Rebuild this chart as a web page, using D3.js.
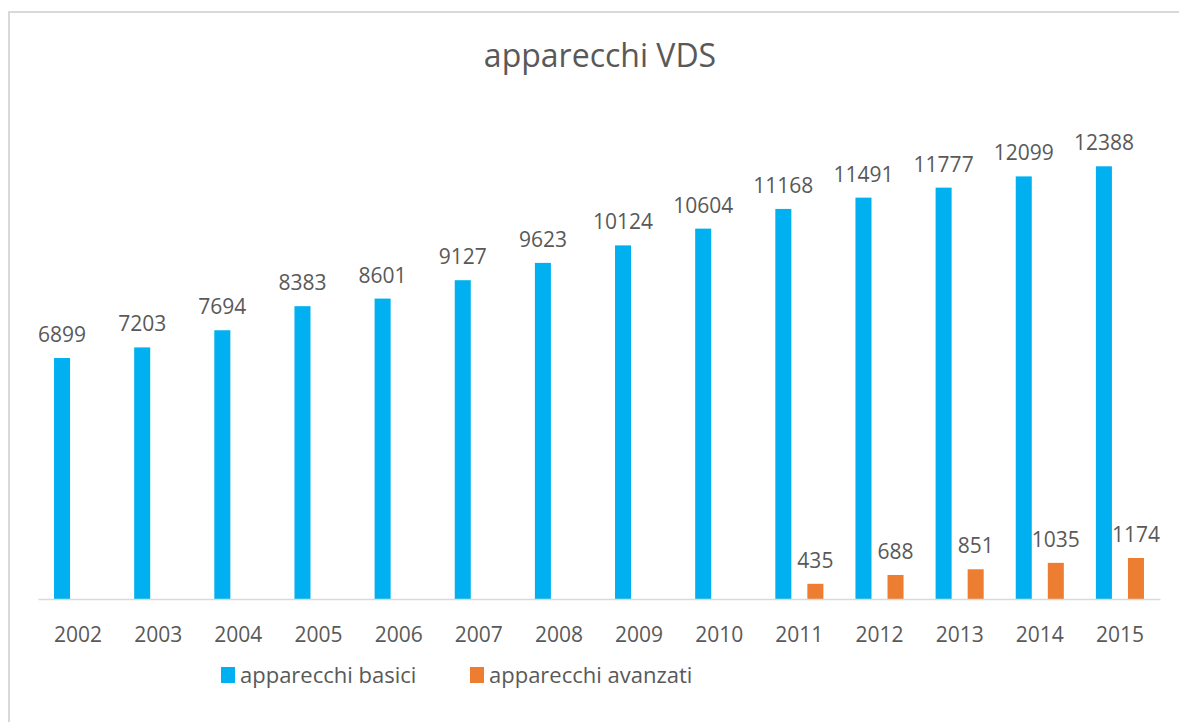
<!DOCTYPE html>
<html>
<head>
<meta charset="utf-8">
<script src="https://cdn.jsdelivr.net/npm/d3@7"></script>
<style>
	body { margin: 0; background: #fff; }
	svg { display: block; font-family: "Open Sans", "Noto Sans", sans-serif; }
</style>
</head>
<body>
<script>
let years = ["2002","2003","2004","2005","2006","2007","2008","2009","2010","2011","2012","2013","2014","2015"];
let basici = [6899, 7203, 7694, 8383, 8601, 9127, 9623, 10124, 10604, 11168, 11491, 11777, 12099, 12388];
let avanzati = [null, null, null, null, null, null, null, null, null, 435, 688, 851, 1035, 1174];
let seriesNames = ["apparecchi basici", "apparecchi avanzati"];
let seriesColors = ["#00B0F0", "#ED7D31"];

let width = 1179;
let height = 722;
let margin = { top: 110, right: 19, bottom: 123, left: 38 };
let textColor = "#595959";

let svg = d3.select("body").append("svg")
	.attr("width", width)
	.attr("height", height);

// chart frame (runs off the right / bottom of the window)
svg.append("rect")
	.attr("x", 9)
	.attr("y", 12)
	.attr("width", width + 20)
	.attr("height", height + 20)
	.attr("fill", "#fff")
	.attr("stroke", "#D9D9D9")
	.attr("stroke-width", 2);

svg.append("text")
	.text("apparecchi VDS")
	.attr("x", 600)
	.attr("y", 67)
	.attr("text-anchor", "middle")
	.attr("fill", textColor)
	.style("font-size", "32px");

let x0 = d3.scaleBand()
	.domain(years)
	.range([margin.left, width - margin.right])
	.paddingInner(0.4)
	.paddingOuter(0.2);

let x1 = d3.scaleBand()
	.domain([0, 1])
	.range([0, x0.bandwidth()])
	.paddingInner(0.5);

let y = d3.scaleLinear()
	.domain([0, 14000])
	.range([height - margin.bottom, margin.top]);

let rows = years.map((yr, i) => ({ year: yr, values: [basici[i], avanzati[i]] }));

let groups = svg.selectAll(".group")
	.data(rows)
	.enter()
	.append("g")
	.attr("class", "group")
	.attr("transform", d => `translate(${x0(d.year)},0)`);

let cells = groups.selectAll(".cell")
	.data(d => d.values.map((v, s) => ({ v: v, s: s })).filter(e => e.v != null))
	.enter();

cells.append("rect")
	.attr("x", d => x1(d.s))
	.attr("width", x1.bandwidth())
	.attr("y", d => y(d.v))
	.attr("height", d => y(0) - y(d.v))
	.attr("fill", d => seriesColors[d.s]);

cells.append("text")
	.text(d => d.v)
	.attr("x", d => x1(d.s) + x1.bandwidth() / 2)
	.attr("y", d => y(d.v) - 16)
	.attr("text-anchor", "middle")
	.attr("fill", textColor)
	.style("font-size", "21px");

// category axis
let xAxis = svg.append("g")
	.attr("transform", `translate(0,${y(0)})`)
	.call(d3.axisBottom(x0).tickSize(0).tickPadding(28));

xAxis.select(".domain")
	.attr("stroke", "#D9D9D9")
	.attr("stroke-width", 1.5);

xAxis.selectAll("text")
	.attr("fill", textColor)
	.style("font-size", "21px")
	.style("font-family", "\"Open Sans\", \"Noto Sans\", sans-serif");

// legend
let legendX = [221, 470];
let legend = svg.selectAll(".legend")
	.data(seriesNames)
	.enter()
	.append("g")
	.attr("class", "legend")
	.attr("transform", (d, i) => `translate(${legendX[i]},667)`);

legend.append("rect")
	.attr("width", 14)
	.attr("height", 16)
	.attr("fill", (d, i) => seriesColors[i]);

legend.append("text")
	.text(d => d)
	.attr("x", 19)
	.attr("y", 16)
	.attr("fill", textColor)
	.style("font-size", "22px");
</script>
</body>
</html>
